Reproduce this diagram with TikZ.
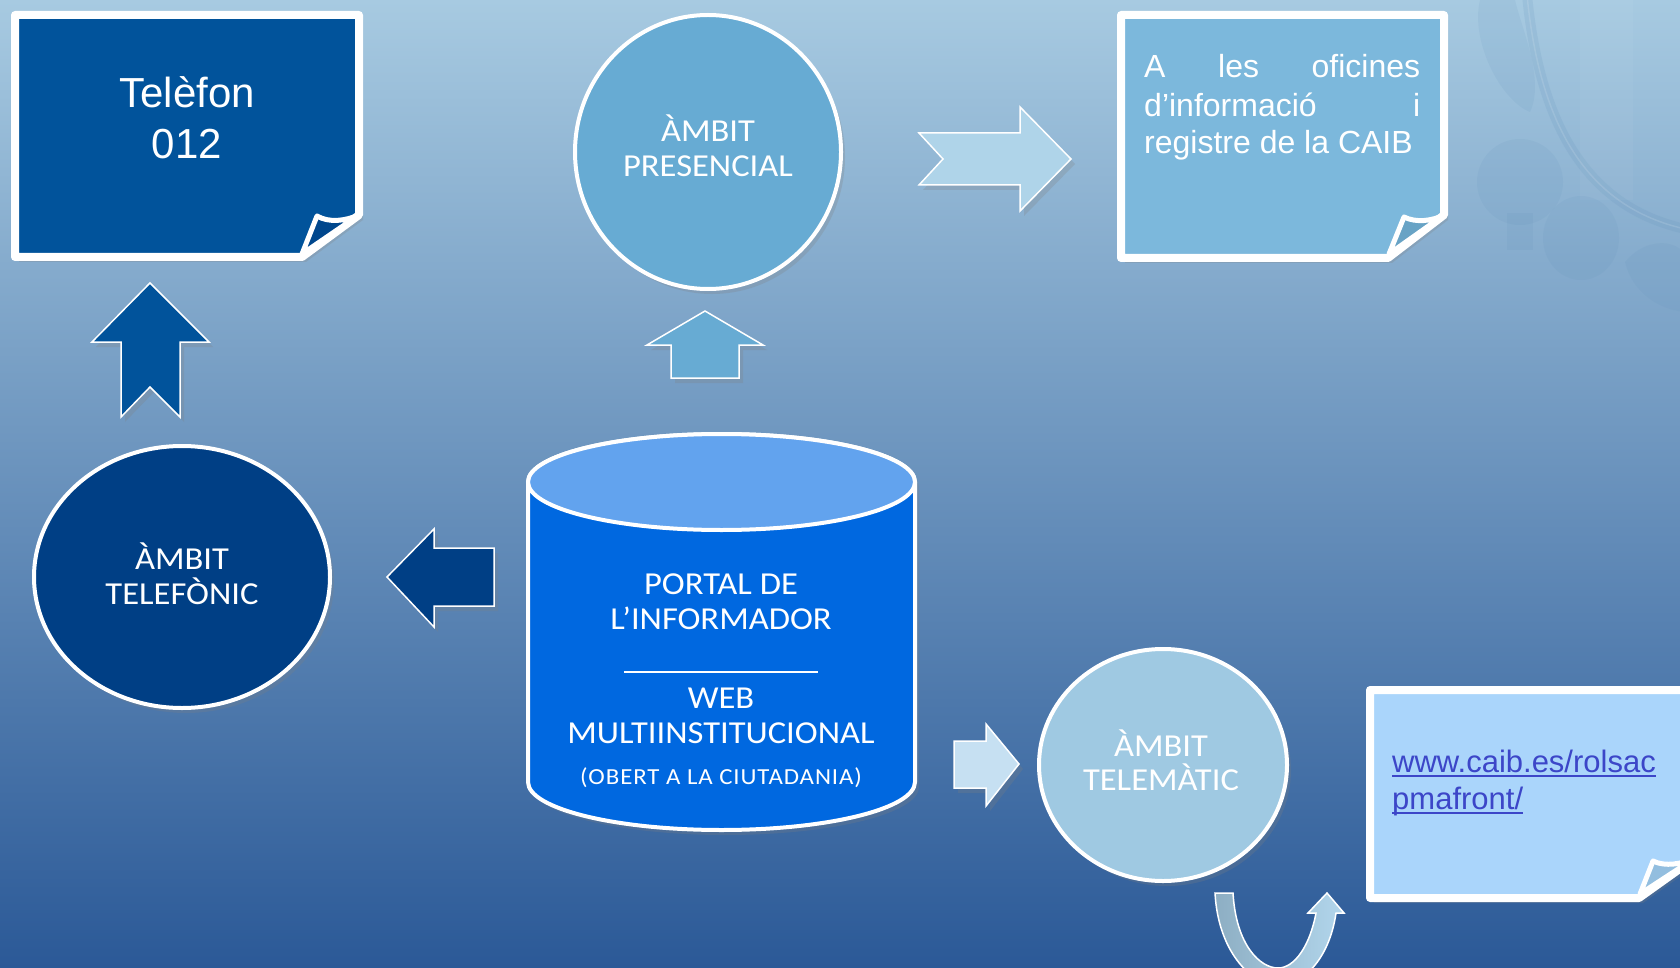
\documentclass[tikz,border=0pt]{standalone}
\usepackage{fontspec}
\setmainfont{Liberation Sans}
\newfontfamily\gill{Carlito}[FakeStretch=1.08]
\newfontfamily\gillsp{Carlito}[FakeStretch=1.08,LetterSpace=4]
\usetikzlibrary{shapes.geometric,shadows}
\definecolor{bgtop}{HTML}{A7CAE1}
\definecolor{bgmid}{HTML}{7B9DC1}
\definecolor{bgbot}{HTML}{2B5997}
\definecolor{telbox}{HTML}{01539B}
\definecolor{telflap}{HTML}{00478D}
\definecolor{presc}{HTML}{67ABD3}
\definecolor{ofibox}{HTML}{7CB8DC}
\definecolor{ofiflap}{HTML}{68A3C5}
\definecolor{telc}{HTML}{003F85}
\definecolor{cylbody}{HTML}{0068E0}
\definecolor{cyltop}{HTML}{62A3EE}
\definecolor{telmc}{HTML}{9FC9E2}
\definecolor{urlbox}{HTML}{AAD5FB}
\definecolor{urlflap}{HTML}{93BEDF}
\definecolor{urlc}{HTML}{3C46C8}
\definecolor{arrR}{HTML}{AFD4E9}
\definecolor{arrS}{HTML}{C6E0F2}
\definecolor{uL}{HTML}{8DAEC3}
\definecolor{uR}{HTML}{B2D6EC}
\definecolor{wmc}{HTML}{5C8DB8}
\begin{document}
\begin{tikzpicture}[x=1pt,y=-1pt,
  shad/.style={drop shadow={opacity=0.25,shadow xshift=4pt,shadow yshift=-5pt}},
  boxline/.style={draw=white,line width=8pt,line join=round},
  flap/.style={draw=white,line width=5pt,line join=round},
  ell/.style={ellipse,draw=white,line width=4pt,inner sep=0pt},
  barrow/.style={draw=white,line width=1.5pt,line join=miter},
  gt/.style={text=white,font=\gill\fontsize{32}{35}\selectfont,anchor=base,inner sep=0pt},
  ofitext/.style={text=white,font=\fontsize{32}{38}\selectfont,anchor=base west,inner sep=0pt},
  wm/.style={fill=wmc,opacity=0.1},
]
\useasboundingbox (0,0) rectangle (1680,968);
\begin{scope}
\clip (0,0) rectangle (1680,968);
% background
\shade[top color=bgtop, middle color=bgmid, bottom color=bgbot] (0,0) rectangle (1680,968);
% watermark ornament
\draw[draw=wmc,opacity=0.14,line width=10pt] (1527,-5) .. controls (1540,130) and (1590,210) .. (1690,230);
\draw[draw=white,opacity=0.12,line width=1.5pt] (1527,-5) .. controls (1540,130) and (1590,210) .. (1690,230);
\fill[white,opacity=0.04] (1580,0) rectangle (1633,200);
\fill[wm] (1480,0) .. controls (1470,40) and (1500,100) .. (1530,112) .. controls (1545,80) and (1522,30) .. (1515,0) -- cycle;
\fill[wm] (1520,182) circle[radius=43];
\fill[wm] (1581,238) ellipse[x radius=38,y radius=42];
\fill[wm] (1507,213) rectangle (1533,250);
\fill[wm] (1625,262) .. controls (1650,232) and (1690,240) .. (1690,270) -- (1690,312) .. controls (1660,312) and (1632,292) .. cycle;

% ---- Telefon box
\path[boxline, fill=telbox, shad] (15,15) -- (359,15) -- (359,215) -- (302,257) -- (15,257) -- cycle;
\path[flap, fill=telflap] (302,254) -- (317,216) .. controls (329,223) and (345,221) .. (359,215) -- cycle;
\node[text=white,font=\fontsize{42}{50}\selectfont,anchor=base,inner sep=0pt] (t1) at (187,108) {Telèfon};
\node[text=white,font=\fontsize{42}{50}\selectfont,anchor=base,inner sep=0pt] (t2) at (187,159) {012};

% ---- Oficines box
\path[boxline, fill=ofibox, shad] (1121,15) -- (1444,15) -- (1444,215) -- (1388,258) -- (1121,258) -- cycle;
\path[flap, fill=ofiflap] (1389,254) -- (1404,217) .. controls (1416,223) and (1432,221) .. (1444,215) -- cycle;
\node[ofitext] (of1) at (1144,78) {\hbox to 276pt{A\hfill les\hfill oficines}};
\node[ofitext] (of2) at (1144,117) {\hbox to 276pt{d’informació\hfill i}};
\node[ofitext] (of3) at (1144,154) {registre de la CAIB};

% ---- URL box
\path[boxline, fill=urlbox, shad] (1370,690) -- (1695,690) -- (1695,858) -- (1639,898) -- (1370,898) -- cycle;
\path[flap, fill=urlflap] (1640,894) -- (1653,861) .. controls (1665,867) and (1682,864) .. (1695,858) -- cycle;
\node[text=urlc,font=\fontsize{31}{37}\selectfont,anchor=base west,inner sep=0pt] (u1) at (1392,772) {www.caib.es/rolsac};
\node[text=urlc,font=\fontsize{31}{37}\selectfont,anchor=base west,inner sep=0pt] (u2) at (1392,809) {pmafront/};
\draw[urlc,line width=2pt] ([yshift=-4pt]u1.base west) -- ([yshift=-4pt]u1.base east);
\draw[urlc,line width=2pt] ([yshift=-4pt]u2.base west) -- ([yshift=-4pt]u2.base east);

% ---- Ambit presencial
\node[ell, fill=presc, minimum width=266pt, minimum height=274pt, shad] (pres) at (708,152) {};
\node[gt] (pres1) at (708,142) {ÀMBIT};
\node[gt] (pres2) at (708,177) {PRESENCIAL};

% ---- Ambit telefonic
\node[ell, fill=telc, minimum width=296pt, minimum height=262pt, shad] (tel) at (182,577) {};
\node[gt] (tel1) at (182,569) {ÀMBIT};
\node[gt] (tel2) at (182,604) {TELEFÒNIC};

% ---- Ambit telematic
\node[ell, fill=telmc, minimum width=248pt, minimum height=232pt, shad] (telm) at (1163,765) {};
\node[gt] (telm1) at (1161,756) {ÀMBIT};
\node[gt] (telm2) at (1161,790) {TELEMÀTIC};

% ---- Cylinder
\path[draw=white, line width=4pt, fill=cylbody, shad] (528,482) -- (528,782)
  arc[start angle=180, end angle=0, x radius=193.5, y radius=48] -- (915,482)
  arc[start angle=0, end angle=-180, x radius=193.5, y radius=48] -- cycle;
\path[draw=white, line width=4pt, fill=cyltop] (721.5,482) ellipse[x radius=193.5, y radius=48];
\node[gt] (po1) at (721,594) {PORTAL DE};
\node[gt] (po2) at (721,629) {L’INFORMADOR};
\draw[white,line width=1.5pt] (624,672) -- (818,672);
\node[gt] (po3) at (721,708) {WEB};
\node[gt] (po4) at (721,743) {MULTIINSTITUCIONAL};
\node[gt,font=\gillsp\fontsize{23}{28}\selectfont] (po5) at (721,784) {(OBERT A LA CIUTADANIA)};

% ---- block arrows
\path[barrow, fill=telbox, shad] (150,283) -- (209,342) -- (180,342) -- (180,417) -- (150,387) -- (121,417) -- (121,342) -- (92,342) -- cycle;
\path[barrow, fill=presc, shad] (705,311) -- (763,345) -- (739,345) -- (739,378) -- (671,378) -- (671,345) -- (647,345) -- cycle;
\path[barrow, fill=arrR, shad] (919,133) -- (1020,133) -- (1020,107) -- (1071,159) -- (1020,211) -- (1020,185) -- (919,185) -- (943,159) -- cycle;
\path[barrow, fill=telc, shad] (387,577) -- (434,529) -- (434,548) -- (494,548) -- (494,606) -- (434,606) -- (434,627) -- cycle;
\path[barrow, fill=arrS, shad] (954,741) -- (986,741) -- (986,724) -- (1019,764) -- (986,806) -- (986,788) -- (954,788) -- cycle;

% ---- U-turn arrow
\shade[left color=uL, right color=uR, draw=white, line width=1.5pt]
  (1215,893) .. controls (1218,950) and (1250,985) .. (1278,985)
  .. controls (1306,985) and (1330,955) .. (1336,913)
  -- (1344,913) -- (1327,893) -- (1308,913) -- (1316,913)
  .. controls (1310,945) and (1295,968) .. (1278,968)
  .. controls (1260,968) and (1236,945) .. (1233,893) -- cycle;
\end{scope}
\end{tikzpicture}
\end{document}
